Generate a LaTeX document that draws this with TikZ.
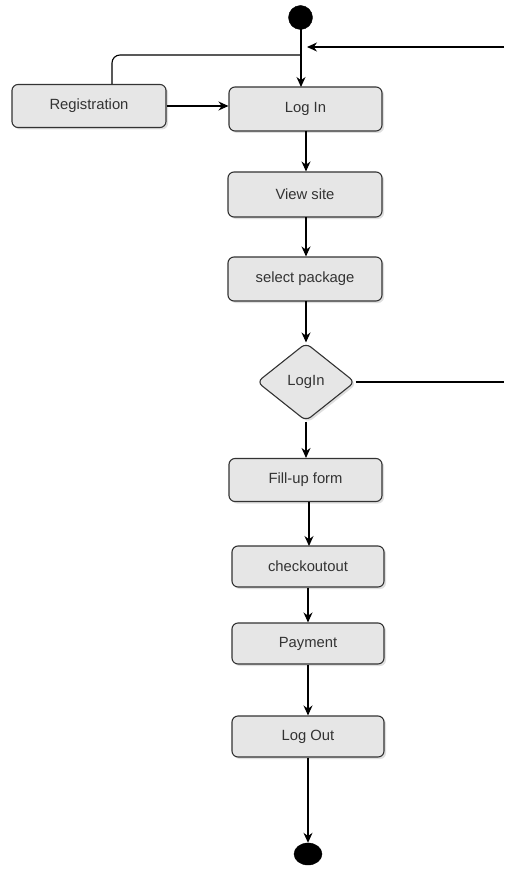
\documentclass[tikz,border=0pt]{standalone}
\usepackage{fontspec}
\setmainfont{Liberation Sans}
\usetikzlibrary{arrows.meta,positioning,shapes.geometric,shadows}
\definecolor{boxfill}{HTML}{E6E6E6}
\definecolor{boxline}{HTML}{333333}
\definecolor{txt}{HTML}{333333}

\begin{document}
\begin{tikzpicture}[x=1pt,y=-1pt,
  every node/.style={font=\fontsize{14.8}{17}\selectfont, text=txt},
  act/.style={draw=boxline, fill=boxfill, line width=1.1pt, rounded corners=6pt,
    minimum width=153pt, minimum height=43pt, inner sep=0pt,
    drop shadow={shadow xshift=2pt, shadow yshift=-2pt, opacity=0.25}},
  choice/.style={diamond, draw=boxline, fill=boxfill, line width=1.1pt, rounded corners=6pt,
    minimum width=98pt, minimum height=78pt, inner sep=0pt,
    drop shadow={shadow xshift=2pt, shadow yshift=-2pt, opacity=0.25}},
  dot/.style={fill=black, draw=black, inner sep=0pt},
  flow/.style={line width=1.1pt, -{Stealth[length=10pt,width=9pt]}},
  wire/.style={line width=1.1pt}]
\useasboundingbox (0,0) rectangle (504,869);
% start / end
\node [dot, circle, minimum size=24pt] (start) at (300.5,17.5) {};
\node [dot, ellipse, minimum width=28pt, minimum height=22pt] (stop) at (308,854) {};
% actions
\node [act, minimum width=154pt] (reg) at (89,106) {Registration};
\node [act, minimum height=44pt] (login) at (305.5,109) {Log In};
\node [act, minimum width=154pt, minimum height=45pt] (view) at (305,194.5) {View site};
\node [act, minimum width=154pt, minimum height=44pt] (select) at (305,279) {select package};
\node [choice] (check) at (306,382) {LogIn};
\node [act] (form) at (305.5,480) {Fill-up form};
\node [act, minimum width=152pt, minimum height=41pt] (cout) at (308,566.5) {checkoutout};
\node [act, minimum width=152pt, minimum height=41pt] (pay) at (308,643.5) {Payment};
\node [act, minimum width=152pt, minimum height=41pt] (logout) at (308,736.5) {Log Out};
% helper points
\coordinate (merge) at (301,55);
\coordinate (back) at (301,47);
\coordinate (loopin) at (504,47);
\coordinate (loopout) at (504,382);
% connectors
\draw [flow] (301,29.5) -- (301,87);
\draw [wire, rounded corners=8pt] ([xshift=23pt]reg.north) |- (merge);
\draw [flow] (reg.east) -- (reg.east -| login.west);
\draw [flow, shorten >=6pt] (loopin) -- (back);
\draw [flow] (306,131) -- (view.north -| 306,0);
\draw [flow] (306,217) -- (select.north -| 306,0);
\draw [flow] (306,301) -- (check.north);
\draw [wire] (check.east) -- (loopout);
\draw [flow] (check.south) -- (check.south |- form.north);
\draw [flow] (309,501.5) -- (309,546);
\draw [flow] (cout.south) -- (pay.north);
\draw [flow] (pay.south) -- (logout.north);
\draw [flow] (logout.south) -- (stop.north);
\end{tikzpicture}
\end{document}
